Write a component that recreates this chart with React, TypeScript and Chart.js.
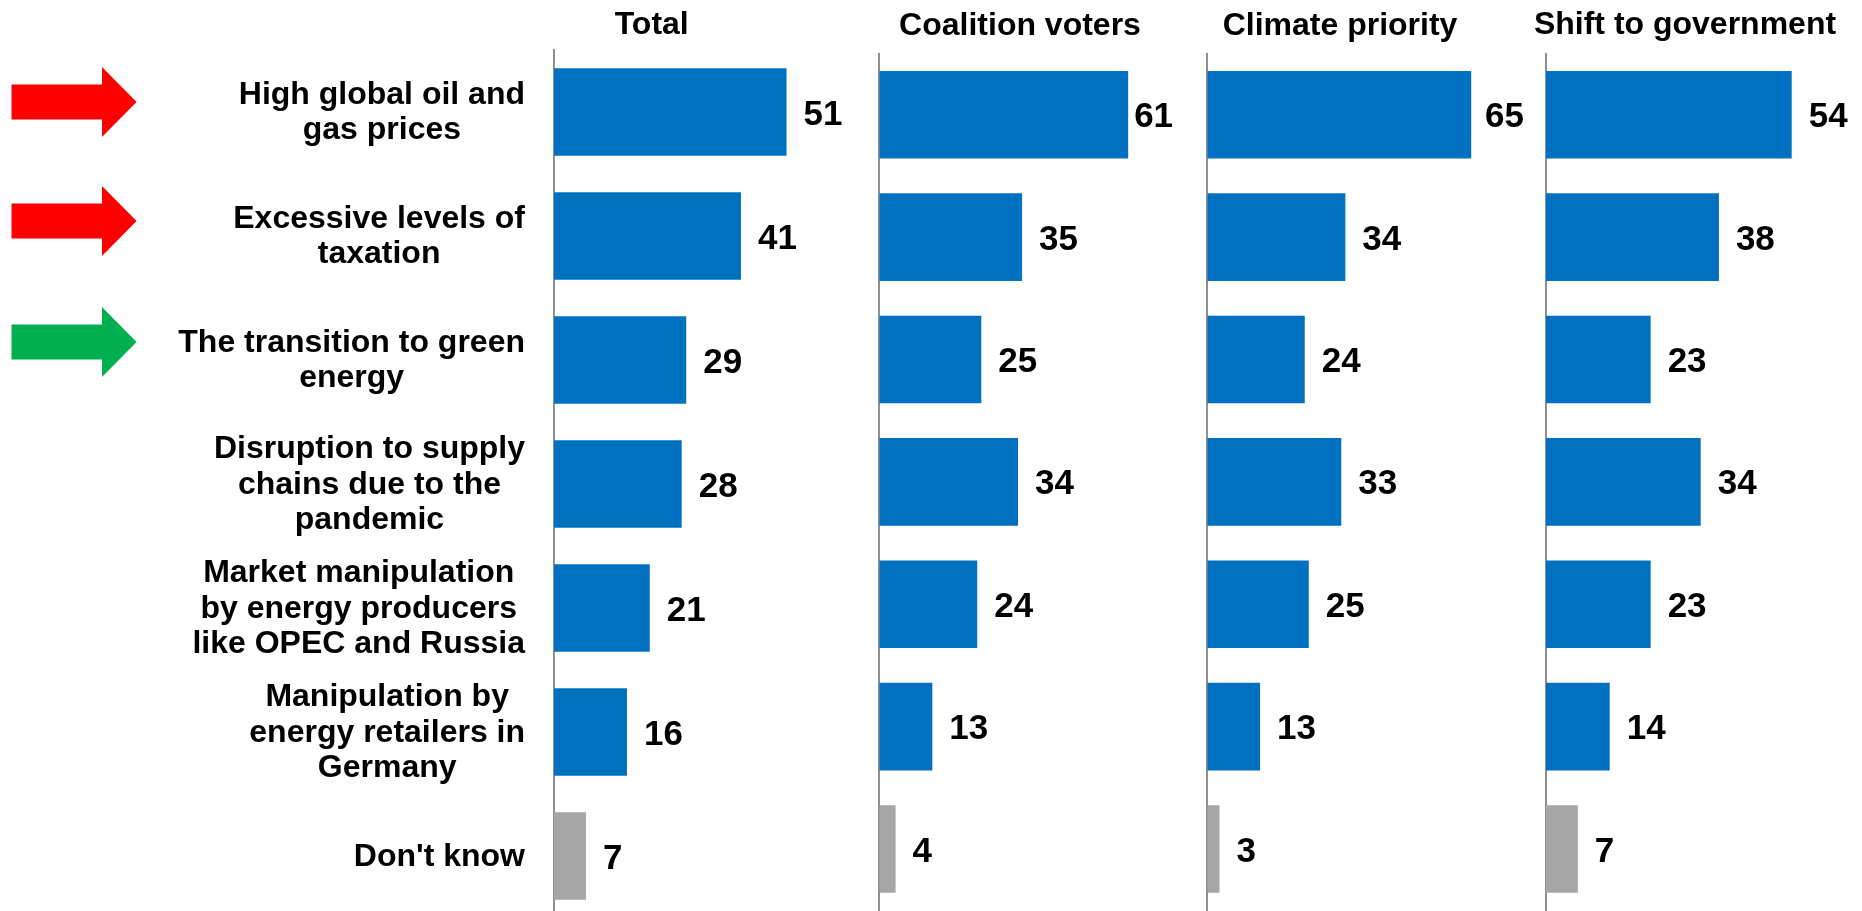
import React, { useEffect, useRef } from 'react';
import { Chart, registerables } from 'chart.js';

Chart.register(...registerables);

// ---------- data ----------
const CATEGORY_LINES: string[][] = [
  ['High global oil and', 'gas prices'],
  ['Excessive levels of', 'taxation'],
  ['The transition to green', 'energy'],
  ['Disruption to supply', 'chains due to the', 'pandemic'],
  ['Market manipulation', 'by energy producers', 'like OPEC and Russia'],
  ['Manipulation by', 'energy retailers in', 'Germany'],
  ["Don't know"],
];
const CATEGORIES = CATEGORY_LINES.map((l) => l.join(' '));

const TOTAL = [51, 41, 29, 28, 21, 16, 7];
const COALITION = [61, 35, 25, 34, 24, 13, 4];
const CLIMATE = [65, 34, 24, 33, 25, 13, 3];
const SHIFT = [54, 38, 23, 34, 23, 14, 7];

const PANEL_TITLES = ['Total', 'Coalition voters', 'Climate priority', 'Shift to government'];
const SERIES = [TOTAL, COALITION, CLIMATE, SHIFT];

// ---------- styles ----------
const BLUE = '#0070C0';
const GRAY = '#A6A6A6';
const AXIS_GRAY = '#8F8F8F';
const FONT = '"Liberation Sans", Arial, Helvetica, sans-serif';
const BAR_COLORS = CATEGORIES.map((_, i) => (i === CATEGORIES.length - 1 ? GRAY : BLUE));

const ARROW_MARKERS = [
  { category: 0, color: '#FF0000', dy: -10 },
  { category: 1, color: '#FF0000', dy: -15 },
  { category: 2, color: '#00B050', dy: -18 },
];

// layout (pixels) for each panel
const CANVAS_H = 930;
const PANELS = [
  { canvasLeft: 0, axisX: 554, ppu: 4.56, max: 70, top: 50, bottom: 918, titleX: 651.7, titleY: 33.5, labels: true },
  { canvasLeft: 870, axisX: 879.3, ppu: 4.08, max: 72, top: 53.6, bottom: 910.2, titleX: 1020, titleY: 35, labels: false },
  { canvasLeft: 1195, axisX: 1207.3, ppu: 4.06, max: 78, top: 53.6, bottom: 910.2, titleX: 1340, titleY: 35, labels: false },
  { canvasLeft: 1530, axisX: 1546, ppu: 4.55, max: 69, top: 53.6, bottom: 910.2, titleX: 1685, titleY: 33.5, labels: false },
];

function canvasWidth(p: any) {
  return Math.ceil(p.axisX - p.canvasLeft + p.max * p.ppu) + 2;
}

function makePlugins(p: any, title: string) {
  return [
    {
      id: 'panelTitle',
      afterDraw(chart: any) {
        const ctx = chart.ctx;
        ctx.save();
        ctx.font = `bold 32px ${FONT}`;
        ctx.fillStyle = '#000';
        ctx.textAlign = 'center';
        ctx.textBaseline = 'alphabetic';
        ctx.fillText(title, p.titleX - p.canvasLeft, p.titleY);
        ctx.restore();
      },
    },
    {
      id: 'valueLabels',
      afterDatasetsDraw(chart: any) {
        const ctx = chart.ctx;
        const meta = chart.getDatasetMeta(0);
        const data = chart.data.datasets[0].data;
        ctx.save();
        ctx.font = `bold 35px ${FONT}`;
        ctx.fillStyle = '#000';
        ctx.textAlign = 'left';
        ctx.textBaseline = 'alphabetic';
        meta.data.forEach((bar: any, i: number) => {
          const txt = String(data[i]);
          const w = ctx.measureText(txt).width;
          const x = Math.min(bar.x + 17, chart.chartArea.right - w);
          ctx.fillText(txt, x, bar.y + 12.5);
        });
        ctx.restore();
      },
    },
    {
      id: 'categoryLabels',
      afterDraw(chart: any) {
        if (!p.labels) return;
        const ctx = chart.ctx;
        const yScale = chart.scales.y;
        const lh = 35.7;
        ctx.save();
        ctx.font = `bold 32px ${FONT}`;
        ctx.fillStyle = '#000';
        ctx.textAlign = 'center';
        ctx.textBaseline = 'alphabetic';
        CATEGORY_LINES.forEach((lines, i) => {
          const yc = yScale.getPixelForValue(i);
          const bw = Math.max(...lines.map((l) => ctx.measureText(l).width));
          const right = chart.chartArea.left - 29;
          const cx = right - bw / 2;
          lines.forEach((l, k) => {
            const y = yc - ((lines.length - 1) / 2) * lh + k * lh + 9.5;
            ctx.fillText(l, cx, y);
          });
        });
        // arrows
        ARROW_MARKERS.forEach((a) => {
          const yc = yScale.getPixelForValue(a.category) + a.dy;
          ctx.fillStyle = a.color;
          ctx.beginPath();
          ctx.moveTo(11.5, yc - 17.5);
          ctx.lineTo(102, yc - 17.5);
          ctx.lineTo(102, yc - 35);
          ctx.lineTo(136.6, yc);
          ctx.lineTo(102, yc + 35);
          ctx.lineTo(102, yc + 17.5);
          ctx.lineTo(11.5, yc + 17.5);
          ctx.closePath();
          ctx.fill();
        });
        ctx.restore();
      },
    },
  ];
}

export default function App() {
  const refs = useRef<(HTMLCanvasElement | null)[]>([]);

  useEffect(() => {
    document.body.style.margin = '0';
    document.body.style.overflow = 'hidden';
    const charts: Chart[] = [];
    PANELS.forEach((p, idx) => {
      const canvas = refs.current[idx];
      if (!canvas) return;
      const w = canvasWidth(p);
      const padLeft = p.axisX - p.canvasLeft;
      const padRight = w - padLeft - p.max * p.ppu;
      const chart = new Chart(canvas, {
        type: 'bar',
        data: {
          labels: CATEGORIES,
          datasets: [
            {
              data: SERIES[idx],
              backgroundColor: BAR_COLORS,
              borderWidth: 0,
              barPercentage: 1,
              categoryPercentage: idx === 0 ? 0.706 : 0.716,
            },
          ],
        },
        options: {
          indexAxis: 'y',
          responsive: false,
          animation: false,
          devicePixelRatio: 1,
          layout: { padding: { left: padLeft, right: padRight, top: p.top, bottom: CANVAS_H - p.bottom } },
          plugins: {
            legend: { display: false },
            tooltip: { enabled: false },
            title: { display: false },
          },
          scales: {
            x: { display: false, min: 0, max: p.max },
            y: {
              display: true,
              grid: { display: false, drawTicks: false },
              ticks: { display: false },
              border: { display: true, color: AXIS_GRAY, width: 2 },
              afterFit: (s: any) => {
                s.width = 0;
              },
            },
          },
        } as any,
        plugins: makePlugins(p, PANEL_TITLES[idx]) as any,
      });
      charts.push(chart);
    });
    return () => charts.forEach((c) => c.destroy());
  }, []);

  return (
    <div style={{ position: 'relative', width: 1862, height: 911, overflow: 'hidden', background: '#fff' }}>
      {PANELS.map((p, idx) => (
        <canvas
          key={idx}
          ref={(el) => {
            refs.current[idx] = el;
          }}
          width={canvasWidth(p)}
          height={CANVAS_H}
          style={{ position: 'absolute', left: p.canvasLeft, top: 0, width: canvasWidth(p), height: CANVAS_H }}
        />
      ))}
    </div>
  );
}
